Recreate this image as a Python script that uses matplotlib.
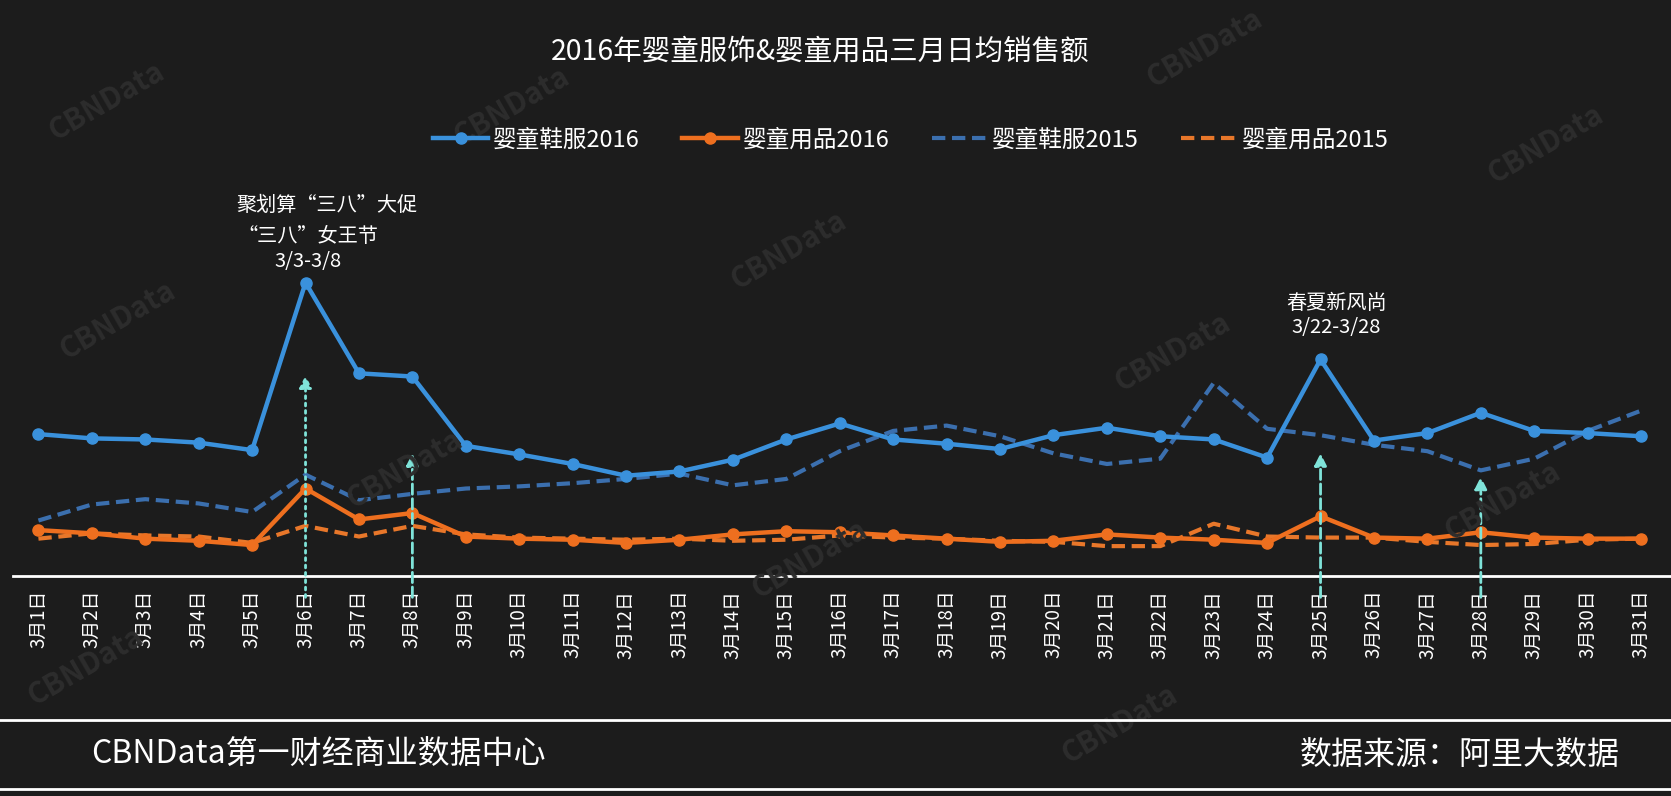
import matplotlib.pyplot as plt
from matplotlib.lines import Line2D

plt.rcParams['font.family'] = ['Noto Sans CJK SC', 'DejaVu Sans']

days = list(range(1, 32))
day_labels = ['3月%d日' % d for d in days]

# heights (no y axis in the original, arbitrary units)
shoes_2016 = [133, 129, 128, 125, 118, 275, 190, 187, 122, 114, 105, 94, 98, 109, 128, 143,
              128, 124, 119, 132, 139, 131, 128, 111, 203, 127, 134, 153, 136, 134, 131]
goods_2016 = [43, 40, 35, 33, 29, 82, 53, 59, 37, 35, 34, 31, 34, 39, 42, 41,
              38, 35, 32, 33, 39, 36, 34, 31, 56, 36, 35, 41, 36, 35, 35]
shoes_2015 = [52, 67, 72, 68, 60, 95, 71, 77, 82, 84, 87, 91, 96, 85, 91, 117,
              136, 141, 131, 115, 105, 110, 181, 138, 132, 123, 117, 99, 110, 136, 155]
goods_2015 = [35, 40, 38, 37, 31, 47, 37, 47, 39, 36, 35, 34, 35, 33, 34, 38,
              36, 35, 33, 32, 28, 28, 49, 37, 36, 36, 32, 29, 30, 34, 35]

# promo arrows: day, top height, style
arrow_days = [6, 8, 25, 28]
arrow_tops = [188, 115, 115, 93]
arrow_styles = [':', '--', '--', '--']

bg = '#1c1c1c'
blue = '#3a91dc'
orange = '#ee6f1f'
blue_dash = '#3b6fae'
orange_dash = '#e8772a'
cyan = '#7fe3d9'
dash = (0, (3.2, 1.6))

fig = plt.figure(figsize=(16.71, 7.96), dpi=100, facecolor=bg)
ax = fig.add_axes([0.00765, 0.2764, 0.99235, 0.7236])
ax.set_facecolor('none')

# faint watermarks
marks = [(100, 95), (480, 100), (1130, 45), (1450, 135), (740, 235), (110, 300),
         (1100, 330), (1410, 470), (380, 440), (760, 525), (1050, 680), (80, 625)]
for mx, my in marks:
    fig.text(mx / 1568, 1 - my / 747, 'CBNData', color='#2d2d2d', fontsize=21,
             fontweight='bold', rotation=30, ha='center', va='center', zorder=0)

ax.plot(days, shoes_2015, color=blue_dash, lw=3, ls=dash, zorder=2)
ax.plot(days, goods_2015, color=orange_dash, lw=3, ls=dash, zorder=2)
ax.plot(days, shoes_2016, color=blue, lw=3.2, marker='o', ms=8, zorder=3)
ax.plot(days, goods_2016, color=orange, lw=3.2, marker='o', ms=8, zorder=3)

for d, top, st in zip(arrow_days, arrow_tops, arrow_styles):
    ax.annotate('', xy=(d, top), xytext=(d, -20), annotation_clip=False,
                arrowprops=dict(arrowstyle='-|>', color=cyan, lw=2, ls=st,
                                mutation_scale=18, shrinkA=0, shrinkB=0), zorder=4)

ax.set_xlim(0.52, 31.56)
ax.set_ylim(0, 540)
ax.set_xticks(days)
ax.set_xticklabels(day_labels, rotation=90, color='white', fontsize=13.5)
ax.tick_params(axis='x', length=0, pad=10)
ax.set_yticks([])
for s in ['top', 'left', 'right']:
    ax.spines[s].set_visible(False)
ax.spines['bottom'].set_color('white')
ax.spines['bottom'].set_linewidth(2)

# annotations
ax.text(6.4, 347, '聚划算“三八”大促', color='white', fontsize=14.5, ha='center', va='center')
ax.text(6.05, 318, '“三八”女王节', color='white', fontsize=14.5, ha='center', va='center')
ax.text(6.05, 295, '3/3-3/8', color='white', fontsize=14.5, ha='center', va='center')
ax.text(25.3, 255, '春夏新风尚', color='white', fontsize=14.5, ha='center', va='center')
ax.text(25.3, 233, '3/22-3/28', color='white', fontsize=14.5, ha='center', va='center')

fig.text(0.491, 0.935, '2016年婴童服饰&婴童用品三月日均销售额', color='white',
         fontsize=20.5, ha='center', va='center')

handles = [
    Line2D([], [], color=blue, lw=3.2, marker='o', ms=8),
    Line2D([], [], color=orange, lw=3.2, marker='o', ms=8),
    Line2D([], [], color=blue_dash, lw=3, ls=dash),
    Line2D([], [], color=orange_dash, lw=3, ls=dash),
]
leg = fig.legend(handles, ['婴童鞋服2016', '婴童用品2016', '婴童鞋服2015', '婴童用品2015'],
                 loc='center', bbox_to_anchor=(0.545, 0.824), ncol=4, frameon=False,
                 fontsize=17, handlelength=2.35, columnspacing=1.8, handletextpad=0.2)
for t in leg.get_texts():
    t.set_color('white')

# footer
fig.add_artist(Line2D([0, 1], [1 - 720 / 796, 1 - 720 / 796], color='white', lw=2))
fig.add_artist(Line2D([0, 1], [1 - 789 / 796, 1 - 789 / 796], color='white', lw=2))
fig.text(91 / 1671, 1 - 755 / 796, 'CBNData第一财经商业数据中心', color='white',
         fontsize=23, ha='left', va='center')
fig.text(1620 / 1671, 1 - 755 / 796, '数据来源：阿里大数据', color='white',
         fontsize=23, ha='right', va='center')

fig.savefig('out.png', dpi=100, facecolor=bg)
